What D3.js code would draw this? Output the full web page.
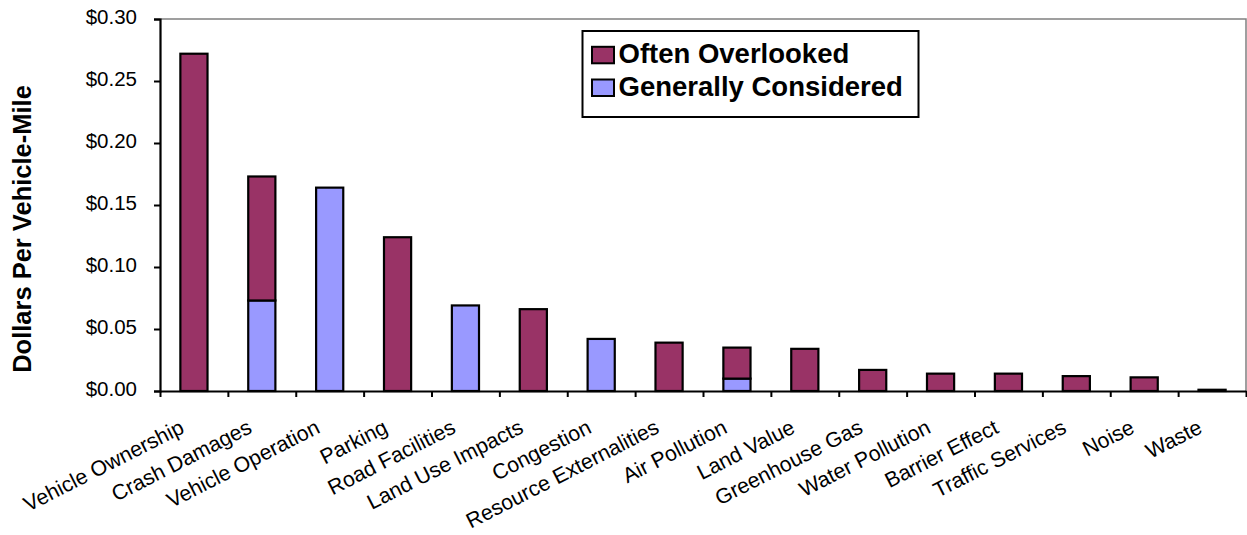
<!DOCTYPE html>
<html>
<head>
<meta charset="utf-8">
<script src="https://cdn.jsdelivr.net/npm/d3@7"></script>
<style>
  html, body { margin: 0; padding: 0; background: #fff; }
  svg { display: block; }
  text { font-family: "Liberation Sans", Arial, sans-serif; fill: #000; }
</style>
</head>
<body>
<svg id="chart" width="1247" height="535"></svg>
<script>
const categories = ["Vehicle Ownership", "Crash Damages", "Vehicle Operation", "Parking",
  "Road Facilities", "Land Use Impacts", "Congestion", "Resource Externalities",
  "Air Pollution", "Land Value", "Greenhouse Gas", "Water Pollution",
  "Barrier Effect", "Traffic Services", "Noise", "Waste"];
const generallyConsidered = [0, 0.073, 0.164, 0, 0.069, 0, 0.042, 0, 0.010, 0, 0, 0, 0, 0, 0, 0];
const oftenOverlooked = [0.272, 0.100, 0, 0.124, 0, 0.066, 0, 0.039, 0.025, 0.034, 0.017, 0.014, 0.014, 0.012, 0.011, 0.001];
const seriesNames = ["Often Overlooked", "Generally Considered"];
const yTicks = [0, 0.05, 0.10, 0.15, 0.20, 0.25, 0.30];
const yTitle = "Dollars Per Vehicle-Mile";

const colors = { over: "#993366", cons: "#9999FF" };
const svg = d3.select("#chart");
const L = 160, R = 1246, T = 19, B = 391;

svg.append("rect").attr("width", 1247).attr("height", 535).attr("fill", "#fff");

const x = d3.scaleBand().domain(categories).range([L, R]).paddingInner(0.6).paddingOuter(0.3);
const xb = d3.scaleLinear().domain([0, categories.length]).range([L, R]);
const y = d3.scaleLinear().domain([0, 0.30]).range([B, T]);

// plot area border (gray top/right)
svg.append("path").attr("d", `M${L},${T}H${R}V${B}`).attr("fill", "none")
  .attr("stroke", "#808080").attr("stroke-width", 1.5);

// stacked data
const rows = categories.map((c, i) => ({ cat: c, cons: generallyConsidered[i], over: oftenOverlooked[i] }));
const stack = d3.stack().keys(["cons", "over"])(rows);
stack.forEach(layer => {
  svg.append("g").selectAll("rect").data(layer.filter(d => d[1] - d[0] > 0)).join("rect")
    .attr("x", d => x(d.data.cat))
    .attr("width", x.bandwidth())
    .attr("y", d => y(d[1]))
    .attr("height", d => y(d[0]) - y(d[1]))
    .attr("fill", colors[layer.key])
    .attr("stroke", "#000").attr("stroke-width", 2.2);
});

// y axis
const yAxis = svg.append("g").attr("transform", `translate(${L},0)`)
  .call(d3.axisLeft(y).tickValues(yTicks).tickFormat(d3.format("$.2f")).tickSize(6).tickPadding(17));
yAxis.select(".domain").attr("stroke", "#000").attr("stroke-width", 2.2);
yAxis.selectAll(".tick line").attr("stroke", "#000").attr("stroke-width", 2);
yAxis.selectAll(".tick text").attr("font-size", 20.5).attr("dy", "0.22em")
  .style("font-family", "'Liberation Sans', Arial, sans-serif");

// x axis (ticks at category boundaries)
const xAxis = svg.append("g").attr("transform", `translate(0,${B})`)
  .call(d3.axisBottom(xb).tickValues(d3.range(0, categories.length + 1)).tickFormat("").tickSize(6).tickSizeOuter(0));
xAxis.select(".domain").attr("stroke", "#000").attr("stroke-width", 2.2);
xAxis.selectAll(".tick line").attr("stroke", "#000").attr("stroke-width", 2);

// category labels
svg.append("g").selectAll("text").data(categories).join("text")
  .attr("transform", d => `translate(${x(d) + x.bandwidth() / 2 - 8.5},432) rotate(-27)`)
  .attr("text-anchor", "end")
  .attr("font-size", 21.3)
  .text(d => d);

// y title
svg.append("text")
  .attr("transform", `translate(31,229) rotate(-90)`)
  .attr("text-anchor", "middle")
  .attr("font-size", 25.5).attr("font-weight", "bold")
  .text(yTitle);

// legend
const lg = svg.append("g");
lg.append("rect").attr("x", 582.5).attr("y", 31).attr("width", 336).attr("height", 86)
  .attr("fill", "#fff").attr("stroke", "#000").attr("stroke-width", 2);
const legendColors = [colors.over, colors.cons];
const legendBase = [63.3, 96];
seriesNames.forEach((s, i) => {
  lg.append("rect").attr("x", 592).attr("y", legendBase[i] - 16.5).attr("width", 22).attr("height", 16.5)
    .attr("fill", legendColors[i]).attr("stroke", "#000").attr("stroke-width", 2);
  lg.append("text").attr("x", 618.5).attr("y", legendBase[i])
    .attr("font-size", 27.5).attr("font-weight", "bold").text(s);
});
</script>
</body>
</html>
